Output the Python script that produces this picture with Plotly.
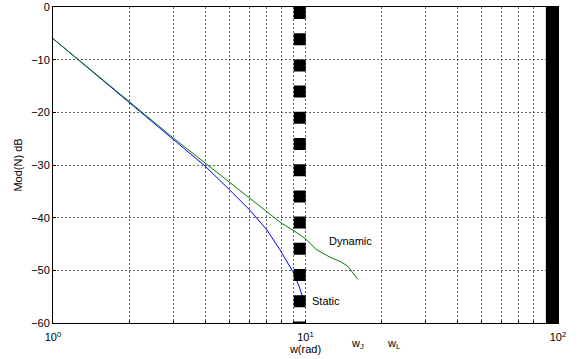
import numpy as np
import plotly.graph_objects as go

# ---- data ----
static_w = [1, 1.5, 2, 2.5, 3, 3.5, 4, 5, 6, 7, 7.9, 8.9, 9.43, 9.87]
static_db = [-6, -13.1, -18.1, -22.0, -25.3, -28.0, -30.2, -34.7, -38.5, -42.2, -46.0, -50.2, -53.0, -55.9]

dynamic_w = [1, 1.5, 2, 2.5, 3, 4, 5, 6, 7, 8, 9, 10, 11, 12.5, 13.7, 14.7, 16.1]
dynamic_db = [-6, -13.0, -17.9, -21.7, -24.9, -29.6, -33.3, -36.4, -38.8, -41.0, -42.5, -44.0, -46.0, -47.5, -48.3, -49.2, -51.7]

dashed_marker_w = 9.49      # thick dashed vertical line
solid_marker_w = 95.0       # thick solid vertical line
freq_label_w = [16.1, 22.4]
freq_label_text = ["w<sub>J</sub>", "w<sub>L</sub>"]

x_major_vals = [1, 10, 100]
x_major_text = ["10<sup>0</sup>", "10<sup>1</sup>", "10<sup>2</sup>"]
x_minor_vals = [2, 3, 4, 5, 6, 7, 8, 9, 20, 30, 40, 50, 60, 70, 80, 90]
y_tick_vals = [-60, -50, -40, -30, -20, -10, 0]
y_range = [-60, 0]

FONT = "Liberation Sans, Arial, Helvetica, sans-serif"
GRID = dict(showgrid=True, gridcolor="#666666", griddash="2px,2px", gridwidth=1)

fig = go.Figure()

fig.add_trace(go.Scatter(x=static_w, y=static_db, mode="lines",
                         line=dict(color="#0000ff", width=1), name="Static"))
fig.add_trace(go.Scatter(x=dynamic_w, y=dynamic_db, mode="lines",
                         line=dict(color="#008000", width=1), name="Dynamic"))

fig.add_trace(go.Scatter(x=[dashed_marker_w, dashed_marker_w], y=[y_range[1], y_range[0]], mode="lines",
                         line=dict(color="black", width=12, dash="12px,14.2px"), name="marker1"))
fig.add_trace(go.Scatter(x=[solid_marker_w, solid_marker_w], y=[y_range[1], y_range[0]], mode="lines",
                         line=dict(color="black", width=13), name="marker2"))

fig.add_annotation(x=np.log10(12.15), y=-44.5, text="Dynamic", showarrow=False,
                   xanchor="left", yanchor="middle", font=dict(family=FONT, size=11, color="black"))
fig.add_annotation(x=np.log10(10.4), y=-55.9, text="Static", showarrow=False,
                   xanchor="left", yanchor="middle", font=dict(family=FONT, size=11, color="black"))
for w, t in zip(freq_label_w, freq_label_text):
    fig.add_annotation(x=np.log10(w), y=-0.038, yref="paper", text=t, showarrow=False,
                       xanchor="center", yanchor="top", font=dict(family=FONT, size=11, color="black"))

fig.update_layout(
    width=582, height=359,
    margin=dict(l=53, r=24, t=7, b=36),
    paper_bgcolor="white", plot_bgcolor="white",
    showlegend=False,
    font=dict(family=FONT, size=11, color="black"),
)
fig.update_xaxes(type="log", range=[0, 2], tickvals=x_major_vals, ticktext=x_major_text,
                 minor=dict(tickvals=x_minor_vals, ticks="inside", ticklen=2, tickcolor="black", **GRID),
                 **GRID,
                 showline=True, linecolor="black", linewidth=1, mirror=True,
                 ticks="inside", ticklen=3, tickcolor="black", zeroline=False, automargin=False,
                 ticklabelstandoff=4,
                 title=dict(text="w(rad)", standoff=0, font=dict(size=11)),
                 tickfont=dict(size=11))
fig.update_yaxes(range=y_range, tickvals=y_tick_vals, **GRID,
                 showline=True, linecolor="black", linewidth=1, mirror=True,
                 ticks="inside", ticklen=3, tickcolor="black", zeroline=False, automargin=False,
                 title=dict(text="Mod(N) dB", standoff=6, font=dict(size=11)),
                 tickfont=dict(size=11))

fig.write_html("out.html", config={"displayModeBar": False},
               post_script="document.body.style.margin='0';")
